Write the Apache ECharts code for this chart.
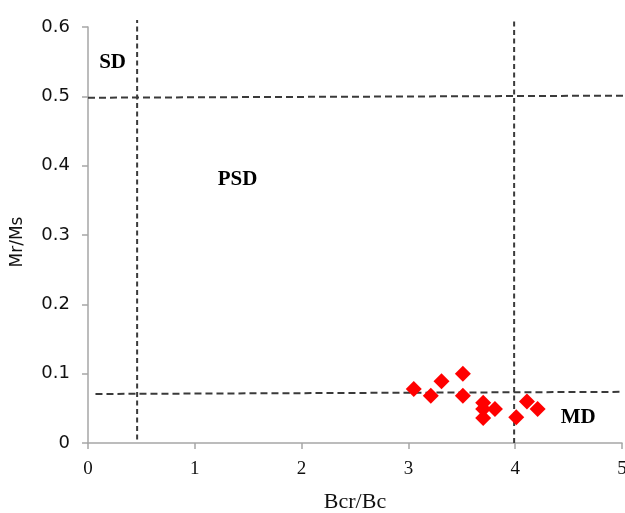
<!DOCTYPE html>
<html>
<head>
<meta charset="utf-8">
<script src="https://cdn.jsdelivr.net/npm/echarts@6/dist/echarts.min.js"></script>
<style>html,body{margin:0;padding:0;background:#fff}#c{width:625px;height:513px}</style>
</head>
<body>
<div id="c"></div>
<script>
// Data
var bcrBc = [3.05, 3.21, 3.31, 3.51, 3.51, 3.70, 3.70, 3.81, 3.70, 4.01, 4.11, 4.21];
var mrMs  = [0.078, 0.068, 0.089, 0.100, 0.068, 0.058, 0.049, 0.049, 0.036, 0.037, 0.060, 0.049];
var xTicks = [0, 1, 2, 3, 4, 5];
var yTicks = [0, 0.1, 0.2, 0.3, 0.4, 0.5, 0.6];
// Domain boundary lines [x1, y1, x2, y2]
var lineSDleft  = [0.46, 0.005, 0.46, 0.61];
var lineMDright = [3.99, 0.0, 3.99, 0.613];
var lineMr05    = [0.0, 0.498, 5.02, 0.501];
var lineMr007   = [0.07, 0.0707, 5.03, 0.0738];
// Region labels
var regionNames = ['SD', 'PSD', 'MD'];
var regionX = [0.23, 1.40, 4.59];
var regionY = [0.548, 0.38, 0.036];

var chart = echarts.init(document.getElementById('c'), null, {renderer: 'canvas'});
function seg(a) { return [[a[0], a[1]], [a[2], a[3]]]; }
var vDash = {color: '#3a3a3a', width: 2, type: [5, 3.5]};
var hDash = {color: '#3a3a3a', width: 2, type: [7, 4]};
var lines = [[lineSDleft, vDash], [lineMDright, vDash], [lineMr05, hDash], [lineMr007, hDash]].map(function (p) {
  return {
    type: 'line', data: seg(p[0]), symbol: 'none', clip: false, silent: true,
    lineStyle: p[1], z: 1, animation: false
  };
});
var pts = bcrBc.map(function (x, i) { return [x, mrMs[i]]; });
var labels = regionNames.map(function (n, i) { return {name: n, value: [regionX[i], regionY[i]]}; });

chart.setOption({
  animation: false,
  grid: {left: 88, right: 3, top: 27, bottom: 70, containLabel: false, outerBoundsMode: 'none'},
  xAxis: {
    type: 'value', min: 0, max: 5, interval: 1,
    name: 'Bcr/Bc', nameLocation: 'middle', nameGap: 48,
    nameTextStyle: {fontFamily: 'Liberation Serif', fontSize: 22, color: '#111'},
    axisLine: {show: true, lineStyle: {color: '#a6a6a6', width: 1.5}},
    axisTick: {show: true, length: 6, lineStyle: {color: '#a6a6a6', width: 1.5}},
    axisLabel: {fontFamily: 'Liberation Serif', fontSize: 19, color: '#111', margin: 17,
      formatter: function (v) { return xTicks.indexOf(v) >= 0 ? String(v) : ''; }},
    splitLine: {show: false}
  },
  yAxis: {
    type: 'value', min: 0, max: 0.6, interval: 0.1,
    name: 'Mr/Ms', nameLocation: 'middle', nameGap: 62, nameRotate: 90,
    nameTextStyle: {fontFamily: 'DejaVu Sans', fontSize: 17, color: '#111', padding: [0, 14, 0, 0]},
    axisLine: {show: true, lineStyle: {color: '#a6a6a6', width: 1.5}},
    axisTick: {show: true, length: 6, lineStyle: {color: '#a6a6a6', width: 1.5}},
    axisLabel: {fontFamily: 'DejaVu Sans', fontSize: 18, color: '#111', margin: 18,
      formatter: function (v) {
        var r = Math.round(v * 10) / 10;
        return r === 0 ? '0' : r.toFixed(1);
      }},
    splitLine: {show: false}
  },
  series: lines.concat([
    {
      type: 'scatter', data: pts, symbol: 'diamond', symbolSize: 16,
      itemStyle: {color: '#ff0000', opacity: 1}, z: 5
    },
    {
      type: 'scatter', data: labels, symbolSize: 0, silent: true, z: 6,
      itemStyle: {opacity: 1},
      label: {show: true, position: 'inside', formatter: '{b}',
        fontFamily: 'Liberation Serif', fontWeight: 'bold', fontSize: 21, color: '#000'}
    }
  ])
});
</script>
</body>
</html>
